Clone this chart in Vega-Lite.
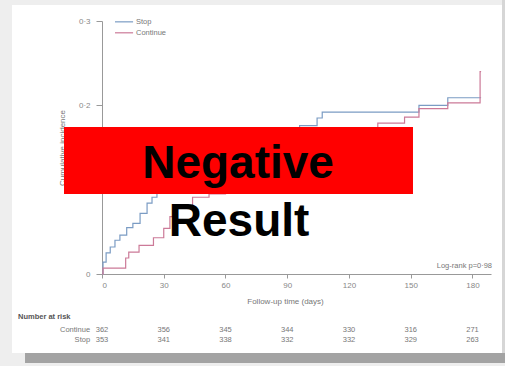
{
  "$schema": "https://vega.github.io/schema/vega-lite/v6.json",
  "width": 389,
  "height": 253,
  "autosize": "none",
  "padding": {"left": 102, "top": 21, "right": 14, "bottom": 92},
  "background": "white",
  "config": {"view": {"stroke": null}, "font": "Liberation Sans"},
  "resolve": {"axis": {"x": "independent", "y": "independent"}},
  "datasets": {
    "curves": [
      {"arm": "Stop", "day": 0, "inc": 0},
      {"arm": "Stop", "day": 0.5, "inc": 0.014},
      {"arm": "Stop", "day": 2, "inc": 0.025},
      {"arm": "Stop", "day": 4, "inc": 0.032},
      {"arm": "Stop", "day": 6.3, "inc": 0.04},
      {"arm": "Stop", "day": 8.7, "inc": 0.046},
      {"arm": "Stop", "day": 12, "inc": 0.055},
      {"arm": "Stop", "day": 15, "inc": 0.06},
      {"arm": "Stop", "day": 18.5, "inc": 0.072},
      {"arm": "Stop", "day": 21.9, "inc": 0.084},
      {"arm": "Stop", "day": 24.3, "inc": 0.091},
      {"arm": "Stop", "day": 26.7, "inc": 0.096},
      {"arm": "Stop", "day": 30, "inc": 0.104},
      {"arm": "Stop", "day": 35, "inc": 0.115},
      {"arm": "Stop", "day": 41, "inc": 0.126},
      {"arm": "Stop", "day": 48, "inc": 0.138},
      {"arm": "Stop", "day": 56, "inc": 0.148},
      {"arm": "Stop", "day": 65, "inc": 0.157},
      {"arm": "Stop", "day": 76, "inc": 0.165},
      {"arm": "Stop", "day": 88, "inc": 0.171},
      {"arm": "Stop", "day": 96, "inc": 0.176},
      {"arm": "Stop", "day": 104.5, "inc": 0.185},
      {"arm": "Stop", "day": 107, "inc": 0.192},
      {"arm": "Stop", "day": 154, "inc": 0.2},
      {"arm": "Stop", "day": 168, "inc": 0.209},
      {"arm": "Stop", "day": 184.2, "inc": 0.209},
      {"arm": "Continue", "day": 0, "inc": 0},
      {"arm": "Continue", "day": 0.5, "inc": 0.007},
      {"arm": "Continue", "day": 11.5, "inc": 0.019},
      {"arm": "Continue", "day": 13, "inc": 0.026},
      {"arm": "Continue", "day": 18, "inc": 0.034},
      {"arm": "Continue", "day": 25, "inc": 0.043},
      {"arm": "Continue", "day": 30, "inc": 0.054},
      {"arm": "Continue", "day": 33, "inc": 0.068},
      {"arm": "Continue", "day": 36, "inc": 0.081},
      {"arm": "Continue", "day": 44, "inc": 0.091},
      {"arm": "Continue", "day": 52, "inc": 0.095},
      {"arm": "Continue", "day": 60, "inc": 0.104},
      {"arm": "Continue", "day": 70, "inc": 0.115},
      {"arm": "Continue", "day": 80, "inc": 0.126},
      {"arm": "Continue", "day": 92, "inc": 0.138},
      {"arm": "Continue", "day": 104, "inc": 0.15},
      {"arm": "Continue", "day": 116, "inc": 0.16},
      {"arm": "Continue", "day": 126, "inc": 0.17},
      {"arm": "Continue", "day": 134, "inc": 0.179},
      {"arm": "Continue", "day": 147, "inc": 0.186},
      {"arm": "Continue", "day": 154, "inc": 0.196},
      {"arm": "Continue", "day": 168, "inc": 0.203},
      {"arm": "Continue", "day": 183.7, "inc": 0.24},
      {"arm": "Continue", "day": 184.2, "inc": 0.24}
    ],
    "risk": [
      {"arm": "Continue", "day": 0, "n": 362},
      {"arm": "Continue", "day": 30, "n": 356},
      {"arm": "Continue", "day": 60, "n": 345},
      {"arm": "Continue", "day": 90, "n": 344},
      {"arm": "Continue", "day": 120, "n": 330},
      {"arm": "Continue", "day": 150, "n": 316},
      {"arm": "Continue", "day": 180, "n": 271},
      {"arm": "Stop", "day": 0, "n": 353},
      {"arm": "Stop", "day": 30, "n": 341},
      {"arm": "Stop", "day": 60, "n": 338},
      {"arm": "Stop", "day": 90, "n": 332},
      {"arm": "Stop", "day": 120, "n": 332},
      {"arm": "Stop", "day": 150, "n": 329},
      {"arm": "Stop", "day": 180, "n": 263}
    ]
  },
  "layer": [
    {
      "data": {"name": "curves"},
      "mark": {"type": "line", "interpolate": "step-after", "strokeWidth": 1.2},
      "encoding": {
        "x": {
          "field": "day", "type": "quantitative",
          "scale": {"domain": [0, 189], "nice": false, "zero": false},
          "axis": {
            "values": [0, 30, 60, 90, 120, 150, 180],
            "title": "Follow-up time (days)",
            "titleFontSize": 8, "titleFontWeight": "normal", "titleColor": "#777",
            "titlePadding": 8, "titleX": 183,
            "labelFontSize": 8, "labelColor": "#888", "labelPadding": 3,
            "tickSize": 4, "tickColor": "#999", "domainColor": "#999", "grid": false
          }
        },
        "y": {
          "field": "inc", "type": "quantitative",
          "scale": {"domain": [0, 0.3], "nice": false, "zero": true},
          "axis": {
            "values": [0, 0.1, 0.2, 0.3],
            "labelExpr": "datum.value == 0 ? '0' : replace(format(datum.value, '.1f'), '.', '·')",
            "title": "Cumulative incidence",
            "titleFontSize": 8, "titleFontWeight": "normal", "titleColor": "#777",
            "titleX": -36,
            "labelFontSize": 8, "labelColor": "#888", "labelPadding": 6,
            "tickSize": 6, "tickColor": "#999", "domainColor": "#999", "grid": false
          }
        },
        "color": {
          "field": "arm", "type": "nominal",
          "scale": {"domain": ["Stop", "Continue"], "range": ["#7b9cc4", "#cc7a98"]},
          "legend": null
        }
      }
    },
    {
      "data": {"values": [{}]},
      "mark": {"type": "rect", "color": "#eeeeee"},
      "encoding": {
        "x": {"datum": -49.6, "type": "quantitative", "axis": null},
        "x2": {"datum": 195.8},
        "y": {"datum": 0.319, "type": "quantitative", "axis": null},
        "y2": {"datum": 0.325}
      }
    },
    {
      "data": {"values": [{}]},
      "mark": {"type": "rect", "color": "#eeeeee"},
      "encoding": {
        "x": {"datum": -49.6, "type": "quantitative", "axis": null},
        "x2": {"datum": -43.73},
        "y": {"datum": -0.1091, "type": "quantitative", "axis": null},
        "y2": {"datum": 0.325}
      }
    },
    {
      "data": {"values": [{}]},
      "mark": {"type": "rect", "color": "#d6d6d6"},
      "encoding": {
        "x": {"datum": 194.34, "type": "quantitative", "axis": null},
        "x2": {"datum": 195.8},
        "y": {"datum": -0.1091, "type": "quantitative", "axis": null},
        "y2": {"datum": 0.325}
      }
    },
    {
      "data": {"values": [{}]},
      "mark": {"type": "rect", "color": "#eeeeee"},
      "encoding": {
        "x": {"datum": -49.6, "type": "quantitative", "axis": null},
        "x2": {"datum": 195.8},
        "y": {"datum": -0.1091, "type": "quantitative", "axis": null},
        "y2": {"datum": -0.0937}
      }
    },
    {
      "data": {"values": [{}]},
      "mark": {"type": "rect", "color": "#a3a3a3"},
      "encoding": {
        "x": {"datum": -37.4, "type": "quantitative", "axis": null},
        "x2": {"datum": 195.8},
        "y": {"datum": -0.1055, "type": "quantitative", "axis": null},
        "y2": {"datum": -0.0937}
      }
    },
    {
      "data": {"values": [{}]},
      "mark": {"type": "rule", "color": "#7b9cc4", "strokeWidth": 1.2},
      "encoding": {
        "x": {"datum": 6.3, "type": "quantitative", "axis": null},
        "x2": {"datum": 15.1},
        "y": {"datum": 0.299, "type": "quantitative", "axis": null}
      }
    },
    {
      "data": {"values": [{}]},
      "mark": {"type": "rule", "color": "#cc7a98", "strokeWidth": 1.2},
      "encoding": {
        "x": {"datum": 6.3, "type": "quantitative", "axis": null},
        "x2": {"datum": 15.1},
        "y": {"datum": 0.286, "type": "quantitative", "axis": null}
      }
    },
    {
      "data": {"values": [{"label": "Stop"}]},
      "mark": {"type": "text", "align": "left", "baseline": "middle", "fontSize": 7.5, "color": "#777"},
      "encoding": {
        "x": {"datum": 16.5, "type": "quantitative", "axis": null},
        "y": {"datum": 0.299, "type": "quantitative", "axis": null},
        "text": {"field": "label"}
      }
    },
    {
      "data": {"values": [{"label": "Continue"}]},
      "mark": {"type": "text", "align": "left", "baseline": "middle", "fontSize": 7.5, "color": "#777"},
      "encoding": {
        "x": {"datum": 16.5, "type": "quantitative", "axis": null},
        "y": {"datum": 0.286, "type": "quantitative", "axis": null},
        "text": {"field": "label"}
      }
    },
    {
      "data": {"values": [{"label": "Log-rank p=0·98"}]},
      "mark": {"type": "text", "align": "right", "baseline": "alphabetic", "fontSize": 7.5, "color": "#777"},
      "encoding": {
        "x": {"datum": 189.5, "type": "quantitative", "axis": null},
        "y": {"datum": 0.0071, "type": "quantitative", "axis": null},
        "text": {"field": "label"}
      }
    },
    {
      "data": {"values": [{"label": "Number at risk"}]},
      "mark": {"type": "text", "align": "left", "baseline": "middle", "fontSize": 7.5, "fontWeight": "bold", "color": "#555"},
      "encoding": {
        "x": {"datum": -40.8, "type": "quantitative", "axis": null},
        "y": {"datum": -0.051, "type": "quantitative", "axis": null},
        "text": {"field": "label"}
      }
    },
    {
      "data": {"values": [{"label": "Continue"}]},
      "mark": {"type": "text", "align": "right", "baseline": "middle", "fontSize": 7.5, "color": "#777"},
      "encoding": {
        "x": {"datum": -5.8, "type": "quantitative", "axis": null},
        "y": {"datum": -0.0664, "type": "quantitative", "axis": null},
        "text": {"field": "label"}
      }
    },
    {
      "data": {"values": [{"label": "Stop"}]},
      "mark": {"type": "text", "align": "right", "baseline": "middle", "fontSize": 7.5, "color": "#777"},
      "encoding": {
        "x": {"datum": -5.8, "type": "quantitative", "axis": null},
        "y": {"datum": -0.0783, "type": "quantitative", "axis": null},
        "text": {"field": "label"}
      }
    },
    {
      "data": {"name": "risk"},
      "transform": [{"filter": "datum.arm == 'Continue'"}],
      "mark": {"type": "text", "align": "center", "baseline": "middle", "fontSize": 7.5, "color": "#777"},
      "encoding": {
        "x": {"field": "day", "type": "quantitative", "axis": null},
        "y": {"datum": -0.0664, "type": "quantitative", "axis": null},
        "text": {"field": "n"}
      }
    },
    {
      "data": {"name": "risk"},
      "transform": [{"filter": "datum.arm == 'Stop'"}],
      "mark": {"type": "text", "align": "center", "baseline": "middle", "fontSize": 7.5, "color": "#777"},
      "encoding": {
        "x": {"field": "day", "type": "quantitative", "axis": null},
        "y": {"datum": -0.0783, "type": "quantitative", "axis": null},
        "text": {"field": "n"}
      }
    },
    {
      "data": {"values": [{}]},
      "mark": {"type": "rect", "color": "#ff0000"},
      "encoding": {
        "x": {"datum": -18.46, "type": "quantitative", "axis": null},
        "x2": {"datum": 151.1},
        "y": {"datum": 0.0949, "type": "quantitative", "axis": null},
        "y2": {"datum": 0.1743}
      }
    },
    {
      "data": {"values": [{"label": "Negative"}]},
      "mark": {"type": "text", "align": "center", "baseline": "alphabetic", "font": "Liberation Sans", "fontSize": 46, "fontWeight": "bold", "color": "#000000"},
      "encoding": {
        "x": {"datum": 66.1, "type": "quantitative", "axis": null},
        "y": {"datum": 0.1138, "type": "quantitative", "axis": null},
        "text": {"field": "label"}
      }
    },
    {
      "data": {"values": [{"label": "Result"}]},
      "mark": {"type": "text", "align": "center", "baseline": "alphabetic", "font": "Liberation Sans", "fontSize": 46, "fontWeight": "bold", "color": "#000000"},
      "encoding": {
        "x": {"datum": 66.6, "type": "quantitative", "axis": null},
        "y": {"datum": 0.045, "type": "quantitative", "axis": null},
        "text": {"field": "label"}
      }
    }
  ]
}
